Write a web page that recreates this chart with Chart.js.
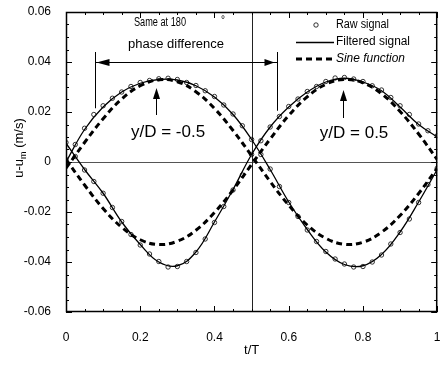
<!DOCTYPE html>
<html>
<head>
<meta charset="utf-8">
<script src="https://cdn.jsdelivr.net/npm/chart.js@4.4.1/dist/chart.umd.min.js"></script>
<style>
  html, body { margin: 0; padding: 0; background: #fff; }
</style>
</head>
<body>
<canvas id="chart" width="442" height="365"></canvas>
<script>
// t/T positions for the smooth curves and for the raw samples
const tCurve = [0, 0.05, 0.1, 0.15, 0.2, 0.25, 0.3, 0.35, 0.4, 0.45, 0.5,
                0.55, 0.6, 0.65, 0.7, 0.75, 0.8, 0.85, 0.9, 0.95, 1];
const tRaw = [0, 0.025, 0.05, 0.075, 0.1, 0.125, 0.15, 0.175, 0.2, 0.225, 0.25,
              0.275, 0.3, 0.325, 0.35, 0.375, 0.4, 0.425, 0.45, 0.475, 0.5,
              0.525, 0.55, 0.575, 0.6, 0.625, 0.65, 0.675, 0.7, 0.725, 0.75,
              0.775, 0.8, 0.825, 0.85, 0.875, 0.9, 0.925, 0.95, 0.975, 1];

// y/D = -0.5
const filteredNeg = [0.000, 0.013, 0.022, 0.028, 0.0315, 0.033, 0.0328, 0.0305, 0.026, 0.019, 0.009,
                     -0.003, -0.016, -0.027, -0.036, -0.041, -0.0415, -0.037, -0.028, -0.016, -0.003];
const sineNeg = [-0.0025, 0.0078, 0.0173, 0.0252, 0.0305, 0.0329, 0.0321, 0.0281, 0.0214, 0.0126, 0.0025,
                 -0.0078, -0.0173, -0.0252, -0.0305, -0.0329, -0.0321, -0.0281, -0.0214, -0.0126, -0.0025];
const rawNeg = [0.001, 0.007, 0.0135, 0.019, 0.0225, 0.0255, 0.028, 0.0302, 0.0318, 0.0326, 0.0333,
                0.0335, 0.033, 0.0318, 0.0306, 0.0285, 0.0262, 0.0228, 0.0192, 0.0145, 0.009,
                0.003, -0.0028, -0.0098, -0.0162, -0.0218, -0.0272, -0.0318, -0.0358, -0.0388, -0.0408,
                -0.042, -0.0418, -0.04, -0.0372, -0.0328, -0.0282, -0.0228, -0.0162, -0.009, -0.0025];

// y/D = 0.5
const filteredPos = [0.0075, -0.003, -0.0125, -0.024, -0.033, -0.04, -0.0415, -0.036, -0.024, -0.011, 0.003,
                     0.014, 0.022, 0.028, 0.032, 0.0335, 0.032, 0.0285, 0.022, 0.015, 0.010];
const sinePos = [0.001, -0.0092, -0.0186, -0.0261, -0.0311, -0.033, -0.0317, -0.0273, -0.0202, -0.0112, -0.001,
                 0.0092, 0.0186, 0.0261, 0.0311, 0.033, 0.0317, 0.0273, 0.0202, 0.0112, 0.001];
const rawPos = [0.0078, 0.0022, -0.0032, -0.0078, -0.0125, -0.0182, -0.0238, -0.029, -0.0332, -0.0368, -0.0398,
                -0.042, -0.0418, -0.0398, -0.0362, -0.0308, -0.0242, -0.0178, -0.0112, -0.0052, 0.003,
                0.0085, 0.014, 0.0182, 0.0222, 0.0252, 0.0282, 0.0302, 0.0322, 0.0336, 0.0338,
                0.0332, 0.0322, 0.0305, 0.0288, 0.0258, 0.0225, 0.019, 0.0152, 0.0125, 0.0105];

const legendLabels = ['Raw signal', 'Filtered signal', 'Sine function'];
const caseLabels = ['y/D = -0.5', 'y/D = 0.5'];

const pts = (ts, vs) => ts.map((t, i) => ({ x: t, y: vs[i] }));

const sineStyle = { borderColor: '#000', borderWidth: 3, borderDash: [6, 4], pointRadius: 0, tension: 0.4, fill: false };
const lineStyle = { borderColor: '#000', borderWidth: 1.3, pointRadius: 0, tension: 0.4, fill: false };
const rawStyle = { showLine: false, pointRadius: 2.2, pointBorderWidth: 0.8, pointBorderColor: '#000', pointBackgroundColor: 'rgba(255,255,255,0)' };

const FONT = '"Liberation Sans", Arial, sans-serif';
const fmtTick = v => String(Math.round(v * 100) / 100);

const decorations = {
  id: 'decorations',
  beforeDatasetsDraw(chart) {
    const { ctx, chartArea: a, scales: { x, y } } = chart;
    ctx.save();
    ctx.strokeStyle = '#555';
    ctx.lineWidth = 1;
    const y0 = Math.round(y.getPixelForValue(0)) + 0.5;
    ctx.beginPath(); ctx.moveTo(a.left, y0); ctx.lineTo(a.right, y0); ctx.stroke();
    const xh = Math.round(x.getPixelForValue(0.5)) + 0.5;
    ctx.strokeStyle = '#222';
    ctx.beginPath(); ctx.moveTo(xh, a.top); ctx.lineTo(xh, a.bottom); ctx.stroke();
    ctx.restore();
  },
  afterDraw(chart) {
    const { ctx, chartArea: a, scales: { x, y } } = chart;
    ctx.save();
    ctx.strokeStyle = '#000';
    ctx.fillStyle = '#000';

    // frame
    ctx.lineWidth = 1.5;
    ctx.strokeRect(a.left + 0.5, a.top + 0.5, a.right - a.left - 1, a.bottom - a.top - 1);

    // inward ticks on all four sides
    ctx.lineWidth = 1;
    ctx.beginPath();
    for (let i = 0; i <= 20; i++) {
      const px = Math.round(x.getPixelForValue(i * 0.05)) + 0.5;
      const len = i % 4 === 0 ? 6 : 3;
      ctx.moveTo(px, a.bottom); ctx.lineTo(px, a.bottom - len);
      ctx.moveTo(px, a.top); ctx.lineTo(px, a.top + len);
    }
    for (let i = 0; i <= 24; i++) {
      const py = Math.round(y.getPixelForValue(-0.06 + i * 0.005)) + 0.5;
      const len = i % 4 === 0 ? 6 : 3;
      ctx.moveTo(a.left, py); ctx.lineTo(a.left + len, py);
      ctx.moveTo(a.right, py); ctx.lineTo(a.right - len, py);
    }
    ctx.stroke();

    const X = v => x.getPixelForValue(v);
    const Y = v => y.getPixelForValue(v);
    const head = (tx, ty, dx, dy, len, half) => {
      const nx = -dy, ny = dx;
      ctx.beginPath();
      ctx.moveTo(tx, ty);
      ctx.lineTo(tx - dx * len + nx * half, ty - dy * len + ny * half);
      ctx.lineTo(tx - dx * len - nx * half, ty - dy * len - ny * half);
      ctx.closePath();
      ctx.fill();
    };

    // 180 degree phase arrow
    const xl = Math.round(X(0.077)) + 0.5, xr = Math.round(X(0.568)) + 0.5;
    const ya = Math.round(Y(0.040)) + 0.5;
    ctx.lineWidth = 1;
    ctx.beginPath();
    ctx.moveTo(xl, Y(0.044)); ctx.lineTo(xl, Y(0.0215));
    ctx.moveTo(xr, Y(0.044)); ctx.lineTo(xr, Y(0.0205));
    ctx.moveTo(xl, ya); ctx.lineTo(xr, ya);
    ctx.stroke();
    head(xl + 1, ya, -1, 0, 13, 3.5);
    head(xr - 3, ya, 1, 0, 10, 3.5);

    // up arrows pointing at the peaks
    [[0.243, 0.0188, 0.0296], [0.747, 0.0176, 0.0288]].forEach(([t, v0, v1]) => {
      const px = Math.round(X(t)) + 0.5;
      ctx.beginPath(); ctx.moveTo(px, Y(v0)); ctx.lineTo(px, Y(v1) + 8); ctx.stroke();
      head(px, Y(v1), 0, -1, 11, 3.5);
    });

    // annotation text
    ctx.textBaseline = 'middle';
    const fitText = (txt, left, cy, font, width) => {
      ctx.font = font;
      const w = ctx.measureText(txt).width;
      ctx.save();
      ctx.translate(left, cy);
      ctx.scale(width / w, 1);
      ctx.textAlign = 'left';
      ctx.fillText(txt, 0, 0);
      ctx.restore();
    };
    fitText('Same at 180', 134, 23, '12px ' + FONT, 52);
    ctx.font = '10px ' + FONT;
    ctx.textAlign = 'left';
    ctx.fillText('°', 221, 20);
    fitText('phase difference', 128, 45, '12px ' + FONT, 96);

    ctx.font = '17px ' + FONT;
    ctx.textAlign = 'center';
    ctx.fillText(caseLabels[0], X(0.275), Y(0.012));
    ctx.fillText(caseLabels[1], X(0.776), Y(0.0116));

    // legend
    ctx.lineWidth = 0.8;
    ctx.beginPath(); ctx.arc(316, 25, 2.2, 0, Math.PI * 2); ctx.stroke();
    ctx.lineWidth = 1.3;
    ctx.beginPath(); ctx.moveTo(296, 42.5); ctx.lineTo(334, 42.5); ctx.stroke();
    ctx.lineWidth = 3;
    ctx.setLineDash([6, 4]);
    ctx.beginPath(); ctx.moveTo(296, 59); ctx.lineTo(334, 59); ctx.stroke();
    ctx.setLineDash([]);
    fitText(legendLabels[0], 336, 25, '12px ' + FONT, 53);
    fitText(legendLabels[1], 336, 42, '12px ' + FONT, 74);
    fitText(legendLabels[2], 336, 59, 'italic 12px ' + FONT, 69);

    // axis titles
    ctx.font = '13px ' + FONT;
    ctx.textAlign = 'center';
    ctx.fillText('t/T', X(0.5), 350);

    ctx.save();
    ctx.translate(19, 148);
    ctx.rotate(-Math.PI / 2);
    ctx.textAlign = 'left';
    const p1 = 'u-u', p3 = ' (m/s)';
    ctx.font = '9px ' + FONT;
    const wSub = ctx.measureText('m').width;
    ctx.font = '13px ' + FONT;
    const w1 = ctx.measureText(p1).width, w3 = ctx.measureText(p3).width;
    let sx = -(w1 + wSub + w3) / 2;
    ctx.fillText(p1, sx, 0); sx += w1;
    ctx.font = '9px ' + FONT;
    ctx.fillText('m', sx, 5); sx += wSub;
    ctx.font = '13px ' + FONT;
    ctx.fillText(p3, sx, 0);
    ctx.restore();

    ctx.restore();
  }
};

new Chart(document.getElementById('chart'), {
  type: 'scatter',
  data: {
    datasets: [
      { label: 'Sine -0.5', data: pts(tCurve, sineNeg), ...sineStyle, showLine: true },
      { label: 'Sine 0.5', data: pts(tCurve, sinePos), ...sineStyle, showLine: true },
      { label: 'Filtered -0.5', data: pts(tCurve, filteredNeg), ...lineStyle, showLine: true },
      { label: 'Filtered 0.5', data: pts(tCurve, filteredPos), ...lineStyle, showLine: true },
      { label: 'Raw -0.5', data: pts(tRaw, rawNeg), ...rawStyle },
      { label: 'Raw 0.5', data: pts(tRaw, rawPos), ...rawStyle }
    ]
  },
  options: {
    responsive: false,
    devicePixelRatio: 1,
    animation: false,
    layout: { padding: { left: 0, right: 2, top: 12, bottom: 0 } },
    plugins: { legend: { display: false }, tooltip: { enabled: false } },
    scales: {
      x: {
        type: 'linear', min: 0, max: 1,
        grid: { display: false }, border: { display: false },
        ticks: { stepSize: 0.2, padding: 10, color: '#000', font: { family: FONT, size: 12 }, maxRotation: 0, callback: fmtTick },
        afterFit: s => { s.height = 53; s.paddingLeft = 0; s.paddingRight = 0; }
      },
      y: {
        type: 'linear', min: -0.06, max: 0.06,
        grid: { display: false }, border: { display: false },
        ticks: { stepSize: 0.02, padding: 7, color: '#000', font: { family: FONT, size: 12 }, callback: fmtTick },
        afterFit: s => { s.width = 66; s.paddingTop = 0; s.paddingBottom = 0; }
      }
    }
  },
  plugins: [decorations]
});
</script>
</body>
</html>
